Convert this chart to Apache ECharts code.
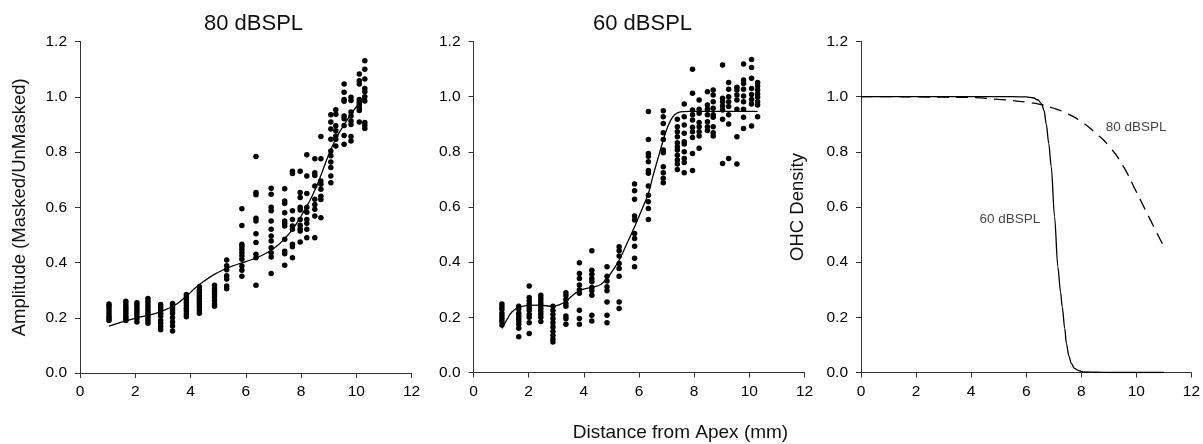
<!DOCTYPE html>
<html><head><meta charset="utf-8">
<script src="https://cdn.jsdelivr.net/npm/echarts@6/dist/echarts.min.js"></script>
<style>html,body{margin:0;padding:0;background:#fff}#c{width:1203px;height:444px}</style>
</head><body><div id="c"></div>
<script>
// ---- Panel 1: 80 dBSPL scatter columns ----
const p80Cols = [1.05,1.66,2.06,2.46,2.92,3.35,3.85,4.32,4.87,5.31,5.86,6.37,6.92,7.41,7.69,7.97,8.21,8.5,8.72,9.08,9.26,9.56,9.81,10.11,10.31];
const p80Vals = [
 [0.25,0.243,0.235,0.225,0.215,0.205,0.197,0.19],
 [0.26,0.25,0.24,0.232,0.224,0.215,0.205,0.197,0.19],
 [0.254,0.245,0.235,0.226,0.216,0.206,0.196,0.185],
 [0.27,0.26,0.25,0.24,0.23,0.22,0.21,0.2,0.19,0.18],
 [0.248,0.238,0.228,0.215,0.205,0.19,0.18,0.167,0.157],
 [0.252,0.244,0.235,0.225,0.215,0.2,0.185,0.17,0.152],
 [0.284,0.274,0.264,0.254,0.244,0.234,0.224,0.214,0.204],
 [0.312,0.3,0.29,0.28,0.27,0.26,0.25,0.24,0.228,0.216],
 [0.318,0.306,0.296,0.286,0.275,0.262,0.25,0.242],
 [0.409,0.388,0.374,0.352,0.34,0.315,0.305],
 [0.595,0.534,0.466,0.458,0.448,0.436,0.424,0.412,0.387,0.372,0.35],
 [0.784,0.653,0.645,0.56,0.55,0.504,0.472,0.43,0.417,0.318],
 [0.669,0.647,0.6,0.587,0.55,0.52,0.496,0.478,0.453,0.435,0.42,0.36],
 [0.667,0.623,0.614,0.58,0.55,0.541,0.532,0.484,0.441,0.432,0.39],
 [0.73,0.722,0.587,0.556,0.532,0.52,0.466,0.457,0.417],
 [0.73,0.653,0.635,0.6,0.59,0.556,0.535,0.522,0.514,0.474],
 [0.79,0.713,0.65,0.6,0.582,0.556,0.542,0.52,0.49],
 [0.776,0.725,0.715,0.677,0.629,0.61,0.593,0.568,0.49],
 [0.856,0.776,0.695,0.683,0.665,0.64,0.628,0.562],
 [0.935,0.909,0.883,0.846,0.804,0.786,0.764,0.744,0.713,0.689],
 [0.953,0.937,0.895,0.877,0.858,0.846,0.822],
 [1.046,1.016,0.99,0.984,0.93,0.92,0.896,0.86,0.828],
 [0.998,0.986,0.945,0.93,0.912,0.9,0.856,0.84],
 [1.082,1.058,1.046,0.99,0.98,0.97,0.958,0.95,0.909],
 [1.13,1.1,1.064,1.03,1.018,1.0,0.985,0.907,0.897,0.885]
];
const fit80X = [1.05,1.5,2.0,2.5,3.0,3.5,3.85,4.2,4.5,4.85,5.2,5.6,6.0,6.5,7.0,7.4,7.8,8.1,8.4,8.7,9.0,9.3,9.6,9.9,10.3];
const fit80Y = [0.17,0.184,0.198,0.21,0.225,0.25,0.278,0.31,0.333,0.356,0.374,0.39,0.403,0.422,0.45,0.485,0.535,0.585,0.64,0.71,0.79,0.855,0.905,0.95,1.0];

// ---- Panel 2: 60 dBSPL scatter columns ----
const p60Cols = [1.03,1.64,2.02,2.44,2.88,3.35,3.84,4.29,4.84,5.28,5.84,6.34,6.88,7.39,7.64,7.94,8.18,8.48,8.69,9.03,9.25,9.55,9.79,10.08,10.3];
const p60Vals = [
 [0.248,0.238,0.228,0.215,0.205,0.195,0.185,0.172],
 [0.24,0.23,0.215,0.205,0.195,0.185,0.175,0.16,0.13],
 [0.314,0.272,0.26,0.248,0.235,0.225,0.21,0.2,0.18,0.141],
 [0.28,0.27,0.26,0.25,0.24,0.23,0.22,0.21,0.2,0.185],
 [0.24,0.225,0.21,0.195,0.18,0.165,0.15,0.135,0.121,0.111],
 [0.289,0.279,0.265,0.25,0.24,0.205,0.195,0.175],
 [0.398,0.359,0.341,0.317,0.3,0.287,0.226,0.196,0.175],
 [0.441,0.371,0.356,0.341,0.329,0.308,0.296,0.28,0.208,0.187],
 [0.383,0.349,0.332,0.311,0.296,0.256,0.208,0.18],
 [0.456,0.441,0.422,0.395,0.377,0.349,0.256,0.232],
 [0.683,0.659,0.628,0.567,0.553,0.504,0.486,0.458,0.414,0.383],
 [0.946,0.845,0.794,0.784,0.764,0.732,0.722,0.676,0.643,0.619,0.595,0.555],
 [0.949,0.927,0.903,0.869,0.845,0.807,0.797,0.746,0.724,0.704,0.688],
 [0.918,0.891,0.873,0.855,0.833,0.818,0.807,0.788,0.77,0.756,0.736],
 [0.973,0.927,0.897,0.867,0.837,0.828,0.8,0.776,0.761,0.724],
 [1.099,1.012,0.952,0.934,0.915,0.889,0.873,0.852,0.794,0.732],
 [0.988,0.954,0.94,0.906,0.891,0.873,0.857,0.813],
 [1.018,0.97,0.954,0.934,0.909,0.891,0.877],
 [1.024,1.006,0.982,0.958,0.934,0.925,0.891,0.869,0.857],
 [1.115,0.994,0.982,0.966,0.952,0.918,0.758],
 [1.051,1.027,1.0,0.982,0.964,0.934,0.901,0.776],
 [1.034,1.024,1.006,0.988,0.954,0.855,0.756],
 [1.118,1.06,1.048,1.027,1.002,0.982,0.954,0.925,0.885],
 [1.135,1.106,1.067,1.03,1.008,0.99,0.973,0.894],
 [1.051,1.039,1.024,1.01,0.998,0.982,0.97,0.927]
];
const fit60X = [1.03,1.2,1.4,1.64,2.0,2.4,2.88,3.1,3.35,3.6,3.84,4.1,4.3,4.6,4.84,5.05,5.28,5.55,5.84,6.1,6.34,6.5,6.67,6.88,7.0,7.15,7.3,7.5,7.8,8.5,9.5,10.3];
const fit60Y = [0.16,0.19,0.22,0.236,0.243,0.244,0.24,0.245,0.258,0.28,0.297,0.305,0.309,0.318,0.341,0.37,0.407,0.465,0.528,0.59,0.649,0.71,0.77,0.843,0.88,0.915,0.935,0.945,0.947,0.947,0.947,0.947];

// ---- Panel 3: OHC density curves ----
const ohc60X = [0,2,4,5.5,6.0,6.25,6.43,6.55,6.65,6.73,6.82,6.91,7.03,7.15,7.25,7.31,7.4,7.46,7.55,7.64,7.75,7.88,8.06,9,10,11];
const ohc60Y = [1,1,1,1,0.999,0.996,0.988,0.975,0.95,0.9,0.83,0.746,0.565,0.383,0.29,0.238,0.16,0.105,0.06,0.033,0.015,0.008,0.002,0,0,0];
const ohc80X = [0,1,2,3,4,5,5.5,6,6.5,7,7.5,8,8.5,9,9.5,10,10.5,11];
const ohc80Y = [1,1,0.999,0.998,0.997,0.99,0.986,0.98,0.972,0.958,0.938,0.91,0.87,0.822,0.752,0.655,0.555,0.456];

const titles = ['80 dBSPL','60 dBSPL'];
const yNames = ['Amplitude (Masked/UnMasked)','','OHC Density'];
const xName = 'Distance from Apex (mm)';
const annot = [{name:'80 dBSPL',x:9.99,y:0.889},{name:'60 dBSPL',x:5.41,y:0.556}];

const FONT = "'Liberation Sans', Arial, sans-serif";
const pts = (cols, vals) => cols.flatMap((c,i)=>vals[i].map(v=>[c,v]));
const zip = (a,b) => a.map((v,i)=>[v,b[i]]);

const grids = [
  {left:80, top:41.5, width:331.5, height:331.5},
  {left:473.5, top:41.5, width:331, height:331},
  {left:861, top:41.5, width:331, height:331}
];
const axisCommon = {
  axisLine:{show:true,lineStyle:{color:'#333',width:1}},
  axisTick:{show:true,inside:false,length:5,lineStyle:{color:'#333'}},
  splitLine:{show:false},
  axisLabel:{color:'#000',fontSize:15.5,fontFamily:FONT}
};
const xAxes = grids.map((g,i)=>Object.assign({}, axisCommon, {
  gridIndex:i, type:'value', min:0, max:12, interval:2,
  axisLabel:Object.assign({}, axisCommon.axisLabel, {margin:11})
}));
const yAxes = grids.map((g,i)=>Object.assign({}, axisCommon, {
  gridIndex:i, type:'value', min:0, max:1.2, interval:0.2,
  name:yNames[i], nameLocation:'middle', nameGap:i===0?51:54, nameRotate:90,
  nameTextStyle:{fontSize:18.5,color:'#111',fontFamily:FONT},
  axisLabel:Object.assign({}, axisCommon.axisLabel, {margin:13, formatter:v=>v.toFixed(1)})
}));

const scatterStyle = {type:'scatter', symbol:'circle', symbolSize:5.5, itemStyle:{color:'#000',opacity:1}, silent:true};
const lineBase = {type:'line', showSymbol:false, lineStyle:{color:'#000',width:1.3}, silent:true};

const chart = echarts.init(document.getElementById('c'), null, {renderer:'canvas'});
chart.setOption({
  animation:false,
  backgroundColor:'#fff',
  textStyle:{fontFamily:FONT},
  grid:grids,
  xAxis:xAxes,
  yAxis:yAxes,
  series:[
    Object.assign({}, scatterStyle, {xAxisIndex:0,yAxisIndex:0,data:pts(p80Cols,p80Vals)}),
    Object.assign({}, lineBase, {xAxisIndex:0,yAxisIndex:0,smooth:0.5,data:zip(fit80X,fit80Y)}),
    Object.assign({}, scatterStyle, {xAxisIndex:1,yAxisIndex:1,data:pts(p60Cols,p60Vals)}),
    Object.assign({}, lineBase, {xAxisIndex:1,yAxisIndex:1,smooth:0.4,data:zip(fit60X,fit60Y)}),
    Object.assign({}, lineBase, {xAxisIndex:2,yAxisIndex:2,smooth:0.3,smoothMonotone:'x',data:zip(ohc60X,ohc60Y)}),
    Object.assign({}, lineBase, {xAxisIndex:2,yAxisIndex:2,smooth:0.5,lineStyle:{color:'#000',width:1.3,type:[12,7]},data:zip(ohc80X,ohc80Y)}),
    {type:'scatter',xAxisIndex:2,yAxisIndex:2,symbolSize:0,silent:true,
     data:annot.map(a=>({name:a.name,value:[a.x,a.y]})),
     label:{show:true,position:'inside',formatter:p=>p.name,color:'#111',fontSize:13.5,fontFamily:FONT}}
  ],
  graphic:[
    {type:'text',x:253.5,y:24,style:{text:titles[0],font:"22px "+FONT,fill:'#111',textAlign:'center',textVerticalAlign:'middle'}},
    {type:'text',x:642.5,y:24,style:{text:titles[1],font:"22px "+FONT,fill:'#111',textAlign:'center',textVerticalAlign:'middle'}},
    {type:'text',x:680.5,y:433,style:{text:xName,font:"19px "+FONT,fill:'#111',textAlign:'center',textVerticalAlign:'middle'}}
  ]
});
</script></body></html>
